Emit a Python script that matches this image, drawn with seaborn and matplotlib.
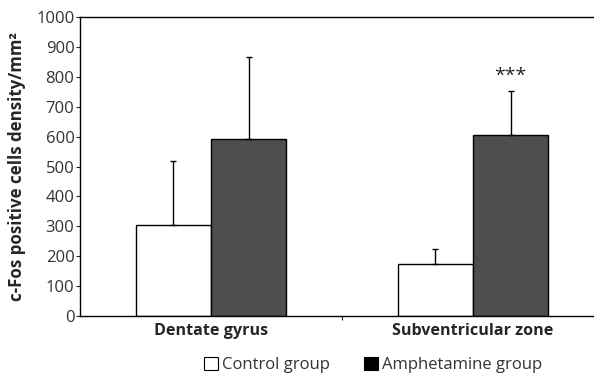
import matplotlib
matplotlib.use("Agg")
import matplotlib.pyplot as plt
import seaborn as sns
import pandas as pd
from matplotlib.patches import Patch

# values
regions = ['Dentate gyrus', 'Subventricular zone']
groups = ['Control group', 'Amphetamine group']
control_mean = [304, 173]
control_err = [215, 51]
amph_mean = [592, 605]
amph_err = [275, 147]
yticks = list(range(0, 1001, 100))

df = pd.DataFrame({
    'region': regions * 2,
    'group': [groups[0]] * 2 + [groups[1]] * 2,
    'value': control_mean + amph_mean,
    'err': control_err + amph_err,
})

sns.set_style("ticks")
plt.rcParams['font.family'] = ['Open Sans', 'DejaVu Sans']

fig = plt.figure(figsize=(5.94, 3.74), dpi=100)
ax = fig.add_axes([0.1347, 0.155, 0.882, 0.7995])

bar_fill = '#4f4d4e'
ax = sns.barplot(data=df, x='region', y='value', hue='group', hue_order=groups,
                 order=regions, palette=['white', bar_fill], width=0.575,
                 edgecolor='black', linewidth=1.0, errorbar=None, legend=False, ax=ax)

# one-sided error bars on top of each bar
for p, (_, row) in zip(ax.patches, df.iterrows()):
    cx = p.get_x() + p.get_width() / 2
    ax.errorbar(cx, p.get_height(), yerr=[[0], [row['err']]], fmt='none',
                ecolor='black', elinewidth=1.0, capsize=2, capthick=1.0)

# significance mark over the amphetamine SVZ bar
svz = ax.patches[3]
ax.text(svz.get_x() + svz.get_width() / 2, amph_mean[1] + amph_err[1] + 50, '***',
        ha='center', va='center', fontsize=14, color='#222222')

ax.set_xlim(-0.5, 1.5)
ax.set_ylim(0, 1000)
ax.set_yticks(yticks)
ax.set_xticks([0.5], minor=True)
ax.set_xticks([0, 1])
ax.set_xticklabels(regions, fontsize=11.6, fontweight='bold')
ax.tick_params(axis='x', which='major', length=0, pad=5)
ax.tick_params(axis='x', which='minor', length=3, width=0.8)
ax.tick_params(axis='y', length=3, width=0.8, labelsize=12, labelcolor='#333333', pad=1)
ax.set_xlabel('')
ax.set_ylabel('c-Fos positive cells density/mm²', fontsize=12.2, fontweight='bold', labelpad=7)
for s in ['left', 'bottom', 'top']:
    ax.spines[s].set_linewidth(1.0)
    ax.spines[s].set_color('black')
ax.spines['right'].set_visible(False)

handles = [Patch(facecolor='white', edgecolor='black', linewidth=0.8),
           Patch(facecolor='black', edgecolor='black', linewidth=0.8)]
fig.legend(handles, groups, loc='center', bbox_to_anchor=(0.628, 0.024), ncol=2,
           frameon=False, fontsize=12, handlelength=0.85, handleheight=0.85,
           handletextpad=0.25, columnspacing=2.0, labelcolor='#333333')

fig.savefig('out.png', dpi=100)
